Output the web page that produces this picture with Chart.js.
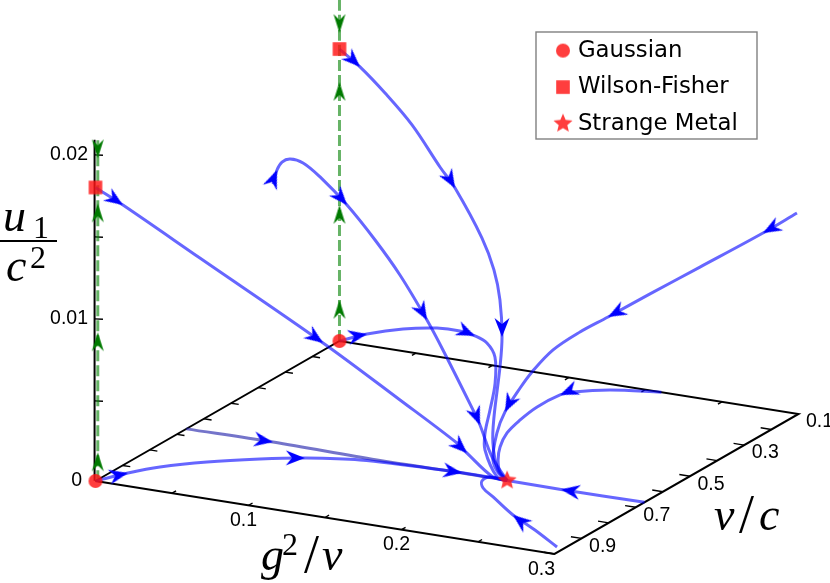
<!DOCTYPE html>
<html>
<head>
<meta charset="utf-8">
<script src="https://cdn.jsdelivr.net/npm/chart.js@4"></script>
<style>
  html, body { margin: 0; padding: 0; background: #fff; }
  canvas { display: block; }
</style>
</head>
<body>
<canvas id="flow" width="830" height="583"></canvas>
<script>
// axis ticks
var gTicks = [0.05, 0.1, 0.15, 0.2, 0.25];
var vTicks = [0.2, 0.3, 0.4, 0.5, 0.6, 0.7, 0.8, 0.9];
var uTicks = [0.005, 0.01, 0.015, 0.02];
var gLabels = [0.1, 0.2, 0.3];
var vLabels = [0.1, 0.3, 0.5, 0.7, 0.9];
var uLabels = [0, 0.01, 0.02];

// fixed points
var fixedNames = ["Gaussian", "Wilson-Fisher", "Strange Metal"];
var gaussianG = [0, 0], gaussianV = [1, 0.1], gaussianU = [0, 0];
var wilsonG = [0, 0], wilsonV = [1, 0.1], wilsonU = [0.0179, 0.0178];
var metalG = [0.2102], metalV = [0.668], metalU = [0];

// flow lines (g^2/v, v/c, u1/c^2)
var flowAG = [0, .0144, .0576, .1257, .1636, .1902, .1932, .2031, .2102];
var flowAV = [1, .98, .94, .87, .8, .74, .72, .68, .668];
var flowAU = [.0179, .01685, .01388, .00905, .00547, .00267, .00191, .00022, 0];
var flowAArrows = [1, 3, 6];

var flowBG = [0, .0134, .0333, .0545, .0763, .0897, .1144, .1293, .1403, .1523, .1616, .1754, .1871, .201, .2102];
var flowBV = [.1, .1, .12, .14, .16, .18, .22, .26, .3, .36, .42, .52, .59, .65, .668];
var flowBU = [.0178, .01691, .0158, .01436, .01231, .01141, .00911, .00777, .00648, .00497, .00385, .00195, .0012, .00033, 0];
var flowBArrows = [1, 5, 9];

var flowCG = [.0186, .0194, .0209, .0244, .0329, .044, .0634, .0835, .1033, .1245, .1385, .167, .1751, .1918, .2102];
var flowCV = [.45, .44, .43, .42, .42, .42, .43, .44, .46, .48, .5, .55, .57, .62, .668];
var flowCU = [.01316, .01394, .01435, .01449, .01438, .01369, .01236, .01062, .00897, .00673, .0053, .00254, .00193, .00071, 0];
var flowCArrows = [1, 6, 9, 12];

var flowDG = [0, .0215, .0504, .0779, .1, .1169, .1318, .1459, .1584, .1657, .1731, .1837, .2022, .2102];
var flowDV = [.1, .12, .15, .18, .22, .26, .3, .35, .42, .48, .54, .6, .66, .668];
var flowDU = [0, .00093, .00195, .0027, .00323, .00356, .00373, .00356, .00282, .00185, .00113, .00082, .00002, 0];
var flowDArrows = [1, 5];

var flowEG = [.299, .2821, .2533, .2313, .2145, .2068, .1963, .1914, .1907, .1879, .1897, .1942, .2026, .2102];
var flowEV = [.1, .13, .2, .26, .32, .38, .42, .47, .51, .55, .59, .63, .655, .668];
var flowEU = [.01224, .01105, .00921, .00782, .00673, .00627, .0054, .00446, .00385, .00273, .00185, .00065, .00016, 0];
var flowEArrows = [1, 4, 9];

var flowFG = [.2104, .1822, .165, .161, .16, .1629, .1678, .1767, .1873, .199, .2102];
var flowFV = [.1, .13, .17, .195, .274, .353, .429, .505, .572, .631, .668];
var flowFArrows = [3];

var flowGG = [.3, .2458, .2102];
var flowGV = [.668, .67, .668];
var flowGArrows = [1];

var flowHG = [.2951, .2686, .244, .2177, .2046, .1978, .1983, .2102];
var flowHV = [.963, .895, .837, .762, .725, .691, .664, .668];
var flowHArrows = [2];

var flowIG = [0, .0095, .0205, .0401, .0646, .0867, .1166, .168, .2052, .2102];
var flowIV = [1, .934, .878, .815, .758, .717, .683, .667, .666, .668];
var flowIArrows = [1, 5];

var flowJG = [0, .0561, .1253, .1804, .2102];
var flowJV = [.665, .662, .669, .666, .668];
var flowJArrows = [1, 3];

// vertical (green) lines along the u axis
var riseLeftU = [0, .00177, .00909, .01695, .0179];
var fallLeftU = [.0208, .0197, .0179];
var riseBackU = [0, .0025, .00829, .01579, .0178];
var fallBackU = [.0208, .01878, .0178];

// oblique projection of the box on to the page
function project(g, v, u) {
  return {
    x: 95.5 + 1530 * g + 271.1 * (1 - v),
    y: 481 + 243.3 * g - 155.6 * (1 - v) - 16400 * u
  };
}

function path(g, v, u) {
  return g.map(function (gi, i) {
    return project(gi, v[i], u ? u[i] : 0);
  });
}

function sprite(size, draw) {
  var c = document.createElement("canvas");
  c.width = size;
  c.height = size;
  var ctx = c.getContext("2d");
  ctx.translate(size / 2, size / 2);
  draw(ctx);
  return c;
}

function arrowSprite(color, len, wid) {
  return sprite(44, function (ctx) {
    ctx.fillStyle = color;
    ctx.beginPath();
    ctx.moveTo(0, 0);
    ctx.lineTo(-len, -wid / 2);
    ctx.lineTo(-len * 0.68, 0);
    ctx.lineTo(-len, wid / 2);
    ctx.closePath();
    ctx.fill();
  });
}

var red = "rgba(255,20,20,0.82)";
var circleImg = sprite(20, function (ctx) {
  ctx.fillStyle = red;
  ctx.beginPath();
  ctx.arc(0, 0, 7, 0, Math.PI * 2);
  ctx.fill();
});
var squareImg = sprite(20, function (ctx) {
  ctx.fillStyle = red;
  ctx.fillRect(-6.8, -6.8, 13.6, 13.6);
});
var starImg = sprite(28, function (ctx) {
  ctx.fillStyle = red;
  ctx.beginPath();
  for (var i = 0; i < 10; i++) {
    var r = i % 2 ? 4.5 : 10;
    var a = -Math.PI / 2 + i * Math.PI / 5;
    ctx.lineTo(r * Math.cos(a), r * Math.sin(a));
  }
  ctx.closePath();
  ctx.fill();
});
var blueArrow = arrowSprite("#0000ff", 19, 15);
var greenArrow = arrowSprite("#007a00", 19, 12);

function heading(ctx) {
  var d = ctx.dataset.data, i = ctx.dataIndex;
  var a = d[Math.max(i - 1, 0)], b = d[Math.min(i + 1, d.length - 1)];
  return Math.atan2(b.y - a.y, b.x - a.x) * 180 / Math.PI;
}

function flowSet(points, arrows, color) {
  return {
    data: points,
    showLine: true,
    borderColor: color || "rgba(0,0,255,0.6)",
    borderWidth: 3,
    tension: 0.35,
    pointStyle: blueArrow,
    pointRotation: heading,
    pointRadius: function (ctx) { return arrows.indexOf(ctx.dataIndex) >= 0 ? 8 : 0; }
  };
}

function greenSet(points) {
  return {
    data: points,
    showLine: true,
    borderColor: "rgba(0,128,0,0.6)",
    borderWidth: 3,
    borderDash: [11, 4],
    tension: 0,
    pointStyle: greenArrow,
    pointRotation: heading,
    pointRadius: function (ctx) {
      return ctx.dataIndex > 0 && ctx.dataIndex < ctx.dataset.data.length - 1 ? 8 : 0;
    }
  };
}

function blackSet(points, width) {
  return {
    data: points,
    showLine: true,
    spanGaps: false,
    borderColor: "#000",
    borderWidth: width,
    tension: 0,
    pointRadius: 0
  };
}

function fixedSet(name, points, img) {
  return { label: name, data: points, pointStyle: img, pointRadius: 8, pointBackgroundColor: red };
}

function same(n, value) {
  return Array(n).fill(value);
}

// tick marks, each one a short segment with a gap after it
var tickPoints = [];
function addTick(a, b) {
  tickPoints.push(a, b, { x: null, y: null });
}
vTicks.concat([1]).forEach(function (v) {
  addTick(project(0, v, 0), project(0.005, v, 0));
  addTick(project(0.3, v, 0), project(0.293, v, 0));
});
gTicks.forEach(function (g) {
  addTick(project(g, 1, 0), project(g, 0.985, 0));
  addTick(project(g, 0.1, 0), project(g, 0.115, 0));
});
// the printed u ticks sit 2 units lower than the box corner
var uTickDrop = 2;
uTicks.forEach(function (u) {
  var a = project(-0.0006, 1, u), b = project(0.004, 0.995, u);
  a.y += uTickDrop;
  b.y += uTickDrop;
  addTick(a, b);
});

var boxPoints = path(
  [0, 0.3, 0.3, 0, 0],
  [1, 1, 0.1, 0.1, 1]
);
var uAxisPoints = path([-0.0006, -0.0006], [1, 1], [0, 0.0208]);

var datasets = [
  fixedSet(fixedNames[2], path(metalG, metalV, metalU), starImg),
  fixedSet(fixedNames[1], path(wilsonG, wilsonV, wilsonU), squareImg),
  fixedSet(fixedNames[0], path(gaussianG, gaussianV, gaussianU), circleImg),
  flowSet(path(flowAG, flowAV, flowAU), flowAArrows),
  flowSet(path(flowBG, flowBV, flowBU), flowBArrows),
  flowSet(path(flowCG, flowCV, flowCU), flowCArrows),
  flowSet(path(flowDG, flowDV, flowDU), flowDArrows),
  flowSet(path(flowEG, flowEV, flowEU), flowEArrows),
  flowSet(path(flowFG, flowFV), flowFArrows),
  flowSet(path(flowGG, flowGV), flowGArrows),
  flowSet(path(flowHG, flowHV), flowHArrows),
  flowSet(path(flowIG, flowIV), flowIArrows),
  flowSet(path(flowJG, flowJV), flowJArrows, "rgba(30,30,170,0.62)"),
  greenSet(path(same(5, 0.0015), same(5, 1), riseLeftU)),
  greenSet(path(same(3, 0.0015), same(3, 1), fallLeftU)),
  greenSet(path(same(5, 0), same(5, 0.1), riseBackU)),
  greenSet(path(same(3, 0), same(3, 0.1), fallBackU)),
  blackSet(boxPoints, 2),
  blackSet(uAxisPoints, 2),
  blackSet(tickPoints, 1.4)
];

function text(ctx, s, x, y, font, align) {
  ctx.font = font;
  ctx.textAlign = align || "left";
  ctx.fillText(s, x, y);
}

var boxPlugin = {
  id: "boxText",
  afterLayout: function (chart) {
    // legend sits inside the plot, top right
    var l = chart.legend;
    l.left = 545.8;
    l.top = 25.5;
    l.right = 757;
    l.bottom = 170;
    l.width = l.right - l.left;
    l.height = l.bottom - l.top;
  },
  beforeDraw: function (chart) {
    var ctx = chart.ctx;
    ctx.save();
    ctx.strokeStyle = "#808080";
    ctx.lineWidth = 1.4;
    ctx.strokeRect(536, 32, 221, 107);
    ctx.restore();
  },
  afterDraw: function (chart) {
    var ctx = chart.ctx, xs = chart.scales.x, ys = chart.scales.y;
    ctx.save();
    ctx.fillStyle = "#000";
    ctx.textBaseline = "middle";
    var tick = "19.5px 'Liberation Sans'";
    function at(p, dx, dy, s, align) {
      text(ctx, s, xs.getPixelForValue(p.x) + dx, ys.getPixelForValue(p.y) + dy, tick, align);
    }
    gLabels.forEach(function (g) {
      at(project(g, 1, 0), g === 0.3 ? -13 : -5, g === 0.3 ? 16 : 15, g.toFixed(1), "center");
    });
    vLabels.forEach(function (v) {
      at(project(0.3, v, 0), 21, 8, v.toFixed(1), "center");
    });
    uLabels.forEach(function (u) {
      if (u === 0) {
        at(project(0, 1, u), -13.5, 0, "0", "right");
      } else {
        at(project(0, 1, u), -7.5, uTickDrop, u.toFixed(2), "right");
      }
    });

    ctx.textBaseline = "alphabetic";
    var big = "italic 46px 'Liberation Serif'";
    var num = "32px 'Liberation Serif'";
    var slash = "54px 'Liberation Serif'";
    // u1 / c^2
    text(ctx, "u", 3, 231, big);
    text(ctx, "1", 33, 238, num);
    ctx.fillRect(0, 240, 57, 2);
    text(ctx, "c", 6, 281, big);
    text(ctx, "2", 30, 268, num);
    // g^2 / v
    text(ctx, "g", 261, 570, big);
    text(ctx, "2", 282, 555, num);
    text(ctx, "/", 304, 572, slash);
    text(ctx, "v", 322, 570, big);
    // v / c
    text(ctx, "v", 714, 530, big);
    text(ctx, "/", 739, 532, slash);
    text(ctx, "c", 759, 530, big);
    ctx.restore();
  }
};

new Chart(document.getElementById("flow"), {
  type: "scatter",
  data: { datasets: datasets },
  plugins: [boxPlugin],
  options: {
    responsive: false,
    animation: false,
    events: [],
    layout: { padding: 0, autoPadding: false },
    scales: {
      x: { type: "linear", display: false, min: 0, max: 830 },
      y: { type: "linear", display: false, min: 0, max: 583, reverse: true }
    },
    plugins: {
      tooltip: { enabled: false },
      legend: {
        position: "chartArea",
        align: "start",
        reverse: true,
        labels: {
          usePointStyle: true,
          boxWidth: 7,
          padding: 13.7,
          color: "#000",
          font: { family: "'DejaVu Sans'", size: 22.8 },
          filter: function (item) { return fixedNames.indexOf(item.text) >= 0; }
        }
      }
    }
  }
});
</script>
</body>
</html>
